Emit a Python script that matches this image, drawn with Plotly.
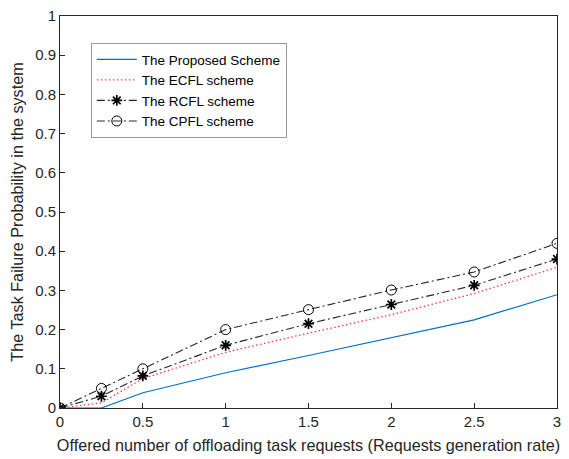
import plotly.graph_objects as go

x = [0, 0.25, 0.5, 1, 1.5, 2, 2.5, 3]
proposed = [0, 0, 0.039, 0.09, 0.134, 0.180, 0.225, 0.289]
ecfl = [0, 0.013, 0.075, 0.142, 0.191, 0.238, 0.292, 0.359]
rcfl = [0, 0.030, 0.082, 0.160, 0.215, 0.264, 0.313, 0.380]
cpfl = [0, 0.050, 0.100, 0.200, 0.251, 0.301, 0.347, 0.420]

x_ticks = [0, 0.5, 1, 1.5, 2, 2.5, 3]
y_ticks = [0, 0.1, 0.2, 0.3, 0.4, 0.5, 0.6, 0.7, 0.8, 0.9, 1]

fig = go.Figure()
fig.add_trace(go.Scatter(x=x, y=proposed, mode="lines", name="The Proposed Scheme",
                         line=dict(color="#0072BD", width=1.2)))
fig.add_trace(go.Scatter(x=x, y=ecfl, mode="lines", name="The ECFL scheme",
                         line=dict(color="#FF3A3A", width=1.3, dash="1.5px,2.5px")))
fig.add_trace(go.Scatter(x=x, y=rcfl, mode="lines+markers", name="The RCFL scheme",
                         line=dict(color="#262626", width=1.1, dash="8px,3px,2px,3px"),
                         marker=dict(symbol="asterisk-open", size=9, color="black",
                                     line=dict(color="black", width=1.7))))
fig.add_trace(go.Scatter(x=x, y=cpfl, mode="lines+markers", name="The CPFL scheme",
                         line=dict(color="#262626", width=1.1, dash="8px,3px,2px,3px"),
                         marker=dict(symbol="circle-open", size=10, color="black",
                                     line=dict(color="black", width=1))))

axis_common = dict(showgrid=False, zeroline=False, showline=True, linecolor="#262626",
                   linewidth=1, mirror=True, ticks="inside", ticklen=5,
                   tickcolor="#262626", tickfont=dict(size=15, color="#262626"),
                   ticklabeloverflow="allow", automargin=False)

# The page body has a default 8px margin, so the figure is sized to fit inside it.
fig.update_layout(
    width=561, height=451,
    margin=dict(l=52, r=12, t=8, b=51),
    paper_bgcolor="white", plot_bgcolor="white",
    font=dict(family="Liberation Sans, Arial, sans-serif", color="#262626"),
    xaxis=dict(range=[0, 3], tickvals=x_ticks, ticktext=[str(v) for v in x_ticks],
               title=dict(text="Offered number of offloading task requests (Requests generation rate)",
                          font=dict(size=16.2), standoff=10), **axis_common),
    yaxis=dict(range=[0, 1], tickvals=y_ticks, ticktext=[("%g" % v) for v in y_ticks],
               title=dict(text="The Task Failure Probability in the system",
                          font=dict(size=16.2), standoff=10), **axis_common),
    legend=dict(x=0.062, y=0.931, xanchor="left", yanchor="top",
                bgcolor="white", bordercolor="#999999", borderwidth=1,
                font=dict(size=13.5, color="black"), tracegroupgap=0,
                itemwidth=40),
    showlegend=True,
)

fig.write_html("out.html")
